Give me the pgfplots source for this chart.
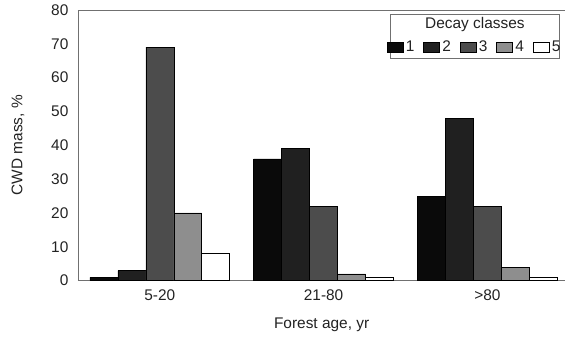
\documentclass[border=0pt]{standalone}
\usepackage{fontspec}
\setmainfont{Liberation Sans}
\usepackage{pgfplots}
\pgfplotsset{compat=1.18}
\definecolor{cA}{HTML}{0A0A0A}
\definecolor{cB}{HTML}{202020}
\definecolor{cC}{HTML}{4C4C4C}
\definecolor{cD}{HTML}{8E8E8E}
\definecolor{cE}{HTML}{FFFFFF}
\definecolor{axc}{HTML}{707070}
\definecolor{txt}{HTML}{222222}
\begin{document}
\begin{tikzpicture}[font=\fontsize{15.5}{18}\selectfont, text=txt]
\begin{axis}[
  scale only axis,
  width=488bp, height=271bp,
  xmin=-0.5, xmax=2.476,
  ymin=0, ymax=80,
  enlargelimits=false,
  clip=false,
  ybar=0pt,
  bar width=0.1707,
  axis x line*=bottom,
  axis y line*=left,
  axis line style={axc, line width=0.6pt, -},
  major tick length=0pt,
  xtick={0,1,2},
  xticklabels={5-20,21-80,{>80}},
  ytick={0,10,...,80},
  /pgf/number format/assume math mode=true,
  xticklabel style={yshift=-6bp, text=txt},
  yticklabel style={xshift=-6bp, text=txt},
  xlabel={Forest age, yr},
  ylabel={CWD mass, \%},
  every axis x label/.style={at={(axis description cs:0.5,-0.162)}, anchor=center, text=txt},
  every axis y label/.style={at={(axis description cs:-0.123,0.5)}, anchor=center, rotate=90, text=txt},
  legend columns=5,
  legend style={draw=none, fill=none, at={(rel axis cs:0.8145,0.8635)}, anchor=center,
    /tikz/every even column/.append style={column sep=6.5bp},
    nodes={inner xsep=2.5bp, inner ysep=1bp}},
  legend image code/.code={\draw[#1,draw=black,line width=0.5pt] (0bp,-5bp) rectangle (16bp,5bp);},
]
\addplot[fill=cA, draw=black, line width=0.5pt] coordinates {(0,1) (1,36) (2,25)};
\addplot[fill=cB, draw=black, line width=0.5pt] coordinates {(0,3) (1,39) (2,48)};
\addplot[fill=cC, draw=black, line width=0.5pt] coordinates {(0,69) (1,22) (2,22)};
\addplot[fill=cD, draw=black, line width=0.5pt] coordinates {(0,20) (1,2) (2,4)};
\addplot[fill=cE, draw=black, line width=0.5pt] coordinates {(0,8) (1,1) (2,1)};
\legend{1,2,3,4,5}
\draw[axc, line width=0.6pt] (rel axis cs:0,1) -- (rel axis cs:1,1);
\draw[axc, line width=0.6pt] (rel axis cs:0.641,0.823) rectangle (rel axis cs:0.988,0.985);
\node[text=txt] at (rel axis cs:0.8145,0.945) {Decay classes};
\coordinate (SW) at (rel axis cs:0,0);
\coordinate (NE) at (rel axis cs:1,1);
\end{axis}
\path ([xshift=-78bp,yshift=-60bp]SW) rectangle ([yshift=10bp]NE);
\end{tikzpicture}
\end{document}
